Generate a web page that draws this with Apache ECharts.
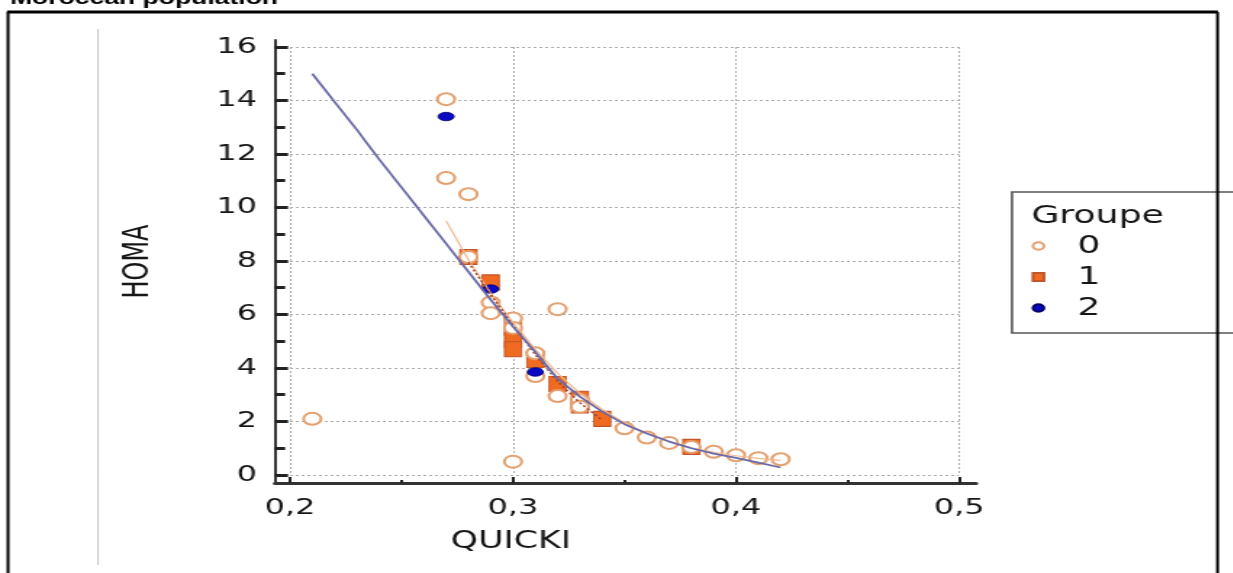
<!DOCTYPE html>
<html>
<head>
<meta charset="utf-8">
<script src="https://cdn.jsdelivr.net/npm/echarts@6/dist/echarts.min.js"></script>
<style>
html,body{margin:0;padding:0;background:#fff;overflow:hidden}
#wrap{width:1233px;height:573px;overflow:hidden;position:relative;background:#fff}
#chart{position:absolute;left:0;top:0;height:573px;transform-origin:0 0}
</style>
</head>
<body>
<div id="wrap"><div id="chart"></div></div>
<script>
// ---- data ----
const xTickValues = [0.2, 0.3, 0.4, 0.5];
const xTickLabels = ['0,2', '0,3', '0,4', '0,5'];
const yTickValues = [0, 2, 4, 6, 8, 10, 12, 14, 16];
const yTickLabels = ['0', '2', '4', '6', '8', '10', '12', '14', '16'];
const groupNames = ['0', '1', '2'];

// Groupe 0 (open circles)
const group0 = [
  [0.21, 2.1], [0.27, 14.05], [0.27, 11.1], [0.28, 10.5], [0.28, 8.15],
  [0.29, 6.45], [0.29, 6.05], [0.30, 5.85], [0.30, 5.5], [0.30, 0.5],
  [0.31, 4.55], [0.31, 3.7], [0.32, 6.2], [0.32, 2.95], [0.33, 2.8],
  [0.33, 2.55], [0.35, 1.75], [0.36, 1.4], [0.37, 1.2], [0.38, 1.05],
  [0.39, 0.87], [0.40, 0.74], [0.41, 0.63], [0.42, 0.59]
];
// Groupe 1 (filled squares)
const group1 = [
  [0.28, 8.15], [0.29, 7.2], [0.30, 5.5], [0.30, 5.05], [0.30, 4.7],
  [0.31, 4.3], [0.32, 3.4], [0.33, 2.85], [0.33, 2.6], [0.34, 2.1], [0.38, 1.05]
];
// Groupe 2 (filled dots)
const group2 = [[0.27, 13.4], [0.29, 6.95], [0.31, 3.85]];

// fitted curves
const fit0 = [
  [0.27, 9.5], [0.28, 8.05], [0.29, 6.8], [0.30, 5.7], [0.31, 4.7], [0.32, 3.8],
  [0.33, 3.05], [0.34, 2.45], [0.35, 1.95], [0.36, 1.55], [0.37, 1.25], [0.38, 1.02],
  [0.39, 0.85], [0.40, 0.72], [0.41, 0.62], [0.42, 0.55]
];
const fit1 = [
  [0.28, 7.95], [0.29, 6.75], [0.30, 5.6], [0.31, 4.5], [0.32, 3.5], [0.33, 2.7], [0.34, 2.05]
];
const fit2 = [
  [0.21, 15.0], [0.22, 13.95], [0.23, 12.9], [0.24, 11.8], [0.25, 10.75], [0.26, 9.7],
  [0.27, 8.65], [0.28, 7.6], [0.29, 6.55], [0.30, 5.55], [0.31, 4.6], [0.32, 3.6],
  [0.33, 2.93], [0.34, 2.37], [0.35, 1.9], [0.36, 1.55], [0.37, 1.25], [0.38, 1.0],
  [0.39, 0.8], [0.40, 0.64], [0.41, 0.46], [0.42, 0.28]
];

// ---- layout ----
const SX = 1.45; // horizontal stretch of the reference picture
const W = 1233 / SX;
const chartEl = document.getElementById('chart');
chartEl.style.width = W + 'px';
chartEl.style.transform = 'scaleX(' + SX + ')';
const px = v => v / SX;
const FONT = '"DejaVu Sans", sans-serif';
const TXT = '#161616';

function labelFor(values, labels) {
  return function (v) {
    for (let i = 0; i < values.length; i++) {
      if (Math.abs(values[i] - v) < 1e-6) return labels[i];
    }
    return '';
  };
}

const chart = echarts.init(chartEl, null, { renderer: 'canvas' });

const option = {
  animation: false,
  backgroundColor: '#fff',
  grid: [
    { left: px(275), top: 40, width: px(701), height: 443, containLabel: false },
    { left: px(290), top: 47, width: px(669), height: 428, containLabel: false }
  ],
  xAxis: [
    {
      gridIndex: 0, type: 'value', min: 0.19327, max: 0.5076,
      splitNumber: 3, minInterval: 0.1, maxInterval: 0.1,
      axisLine: { show: true, onZero: false, lineStyle: { color: '#333', width: 3 } },
      axisTick: { show: true, inside: true, length: 6, customValues: xTickValues,
        lineStyle: { color: '#222', width: 2 } },
      minorTick: { show: true, splitNumber: 2, length: 3, lineStyle: { color: '#222', width: 2 } },
      axisLabel: { show: true, customValues: xTickValues, formatter: labelFor(xTickValues, xTickLabels),
        margin: 14, fontSize: 22, fontFamily: FONT, color: TXT },
      splitLine: { show: false },
      name: 'QUICKI', nameLocation: 'middle', nameGap: 47,
      nameTextStyle: { fontSize: 24, fontFamily: FONT, color: TXT, padding: [0, 158, 0, 0] }
    },
    {
      gridIndex: 1, type: 'value', min: 0.2, max: 0.5, interval: 0.1,
      axisLine: { show: false }, axisTick: { show: false }, axisLabel: { show: false },
      splitLine: { show: true, lineStyle: { color: '#ababab', width: 1, type: [2, 2] } }
    }
  ],
  yAxis: [
    {
      gridIndex: 0, type: 'value', min: -0.3, max: 16.26,
      splitNumber: 8, minInterval: 2, maxInterval: 2,
      axisLine: { show: true, onZero: false, lineStyle: { color: '#333', width: 2 } },
      axisTick: { show: true, inside: true, length: 9, customValues: yTickValues,
        lineStyle: { color: '#222', width: 3 } },
      minorTick: { show: true, splitNumber: 2, length: 7, lineStyle: { color: '#222', width: 3 } },
      axisLabel: { show: true, customValues: yTickValues, formatter: labelFor(yTickValues, yTickLabels),
        margin: 12.4, fontSize: 22, fontFamily: FONT, color: TXT },
      splitLine: { show: false },
      name: 'HOMA', nameLocation: 'middle', nameGap: 82, nameRotate: 90,
      nameTextStyle: { fontSize: 24, fontFamily: FONT, color: TXT }
    },
    {
      gridIndex: 1, type: 'value', min: 0, max: 16, interval: 2,
      axisLine: { show: false }, axisTick: { show: false }, axisLabel: { show: false },
      splitLine: { show: true, lineStyle: { color: '#ababab', width: 1, type: [2, 2] } }
    }
  ],
  legend: {
    show: true, orient: 'vertical', padding: 0,
    left: px(1037) - 3.75, top: 233.5,
    itemWidth: 7.5, itemHeight: 8, itemGap: 6,
    selectedMode: false,
    data: [
      { name: groupNames[0], icon: 'circle' },
      { name: groupNames[1], icon: 'rect' },
      { name: groupNames[2], icon: 'circle' }
    ],
    textStyle: { fontSize: 25, fontFamily: FONT, color: TXT, padding: [0, 0, 0, 18] }
  },
  graphic: [
    { type: 'text', z: 100, x: px(10), y: -1.5,
      style: { text: 'Moroccan population', font: 'bold 18.3px "Liberation Sans", Arial, sans-serif',
        fill: '#000', verticalAlign: 'middle' } },
    { type: 'line', z: 100, shape: { x1: px(7), y1: 12, x2: px(1218), y2: 12 },
      style: { stroke: '#000', lineWidth: 3 } },
    { type: 'line', z: 100, shape: { x1: px(8), y1: 12, x2: px(8), y2: 600 },
      style: { stroke: '#000', lineWidth: 2 } },
    { type: 'line', z: 100, shape: { x1: px(1217.5), y1: 12, x2: px(1217.5), y2: 600 },
      style: { stroke: '#000', lineWidth: 2 } },
    { type: 'line', z: 1, shape: { x1: px(98), y1: 29, x2: px(98), y2: 565 },
      style: { stroke: '#c6c6c6', lineWidth: 1 } },
    { type: 'rect', z: 1, shape: { x: px(1012), y: 192, width: px(260), height: 141 },
      style: { fill: '#fff', stroke: '#555', lineWidth: 1.6 } },
    { type: 'text', z: 5, x: px(1033) - 1.2, y: 216.5,
      style: { text: 'Groupe', font: '25px "DejaVu Sans", sans-serif', fill: TXT, verticalAlign: 'middle' } }
  ],
  series: [
    {
      name: groupNames[1], type: 'scatter', xAxisIndex: 1, yAxisIndex: 1,
      data: group1, symbol: 'rect', symbolSize: [11.7, 15], z: 2,
      itemStyle: { color: '#f06a22', borderColor: '#c0562a', borderWidth: 1, opacity: 1 }
    },
    {
      name: groupNames[0], type: 'scatter', xAxisIndex: 1, yAxisIndex: 1,
      data: group0, symbol: 'circle', symbolSize: [12, 12], z: 2,
      itemStyle: { color: '#ffffff', borderColor: '#e4a06e', borderWidth: 2, opacity: 1 }
    },
    {
      name: groupNames[2], type: 'scatter', xAxisIndex: 1, yAxisIndex: 1,
      data: group2, symbol: 'circle', symbolSize: [11, 8.5], z: 2,
      itemStyle: { color: '#0a0ac4', borderColor: '#00006a', borderWidth: 0.8, opacity: 1 }
    },
    {
      name: 'fit0', type: 'line', xAxisIndex: 1, yAxisIndex: 1, data: fit0,
      symbol: 'none', showSymbol: false, silent: true, z: 3,
      lineStyle: { color: '#f3b88f', width: 1.2 }
    },
    {
      name: 'fit1', type: 'line', xAxisIndex: 1, yAxisIndex: 1, data: fit1,
      symbol: 'none', showSymbol: false, silent: true, z: 4,
      lineStyle: { color: '#a8442a', width: 1.5, type: [2, 2] }
    },
    {
      name: 'fit2', type: 'line', xAxisIndex: 1, yAxisIndex: 1, data: fit2,
      symbol: 'none', showSymbol: false, silent: true, z: 5,
      lineStyle: { color: '#6a6aa8', width: 1.8 }
    }
  ]
};
chart.setOption(option);
</script>
</body>
</html>
